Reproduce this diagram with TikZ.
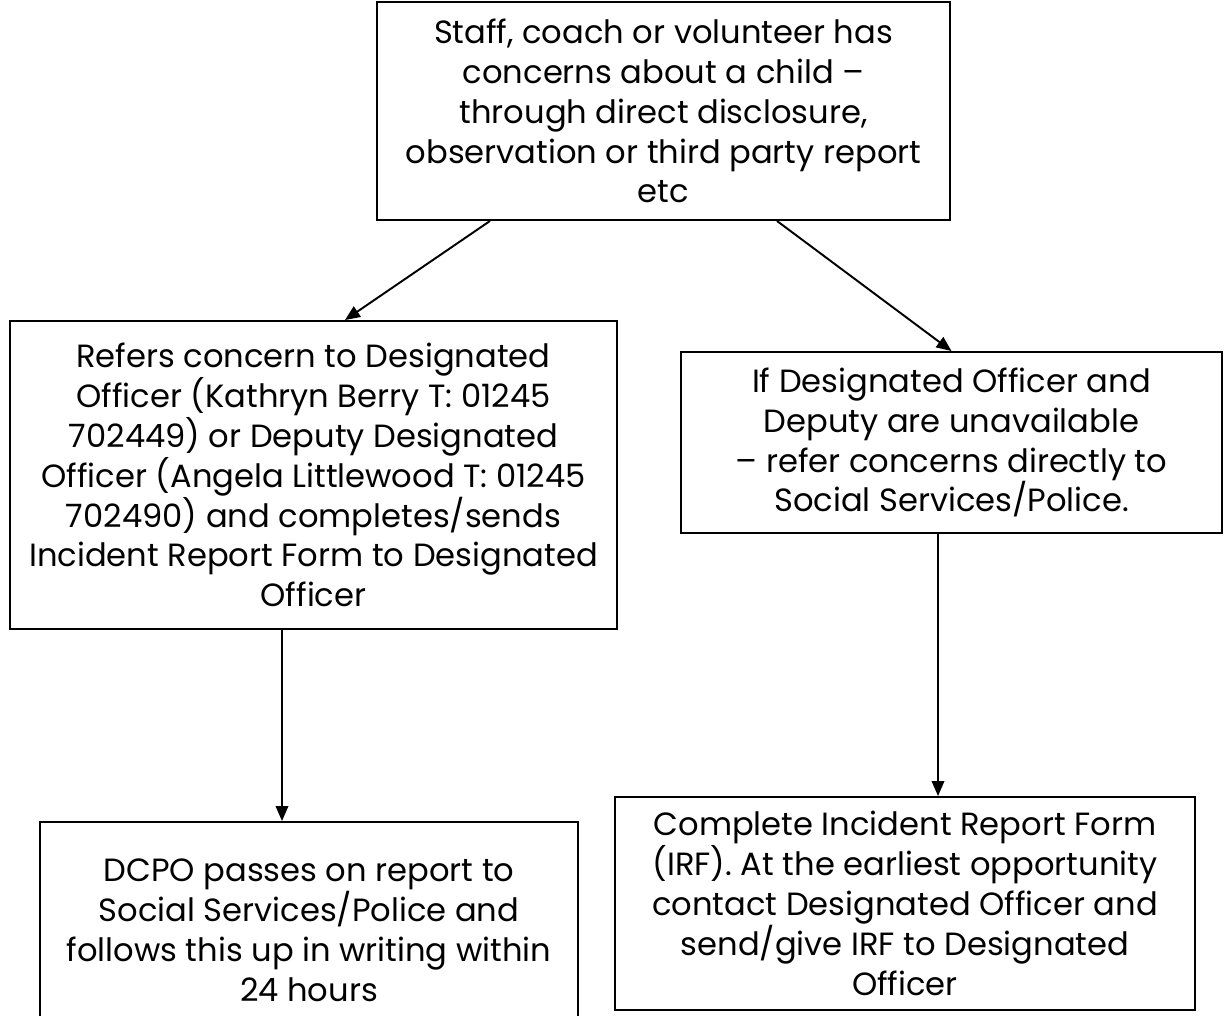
\documentclass[tikz,border=0pt]{standalone}
\usepackage{fontspec}
\setmainfont{Poppins}
\usetikzlibrary{arrows.meta,calc}

\tikzset{
	stepbox/.style={draw, line width=1.1pt, align=center, inner sep=0pt,
		font=\fontsize{18.3}{22.7}\selectfont},
}

\begin{document}
\begin{tikzpicture}[>={Triangle[length=0.3cm,width=0.25cm]}, x=0.02cm, y=-0.02cm, line width=1.1pt]
	\useasboundingbox (0,0) rectangle (1224,1015);
	% boxes
	\node[stepbox, minimum width=573*0.02cm, minimum height=218*0.02cm] (concern) at (663.5,111)
		{Staff, coach or volunteer has\\concerns about a child --\\through direct disclosure,\\observation or third party report\\etc};
	\node[stepbox, minimum width=607*0.02cm, minimum height=308*0.02cm] (refer) at (313.5,475)
		{Refers concern to Designated\\Officer (Kathryn Berry T: 01245\\702449) or Deputy Designated\\Officer (Angela Littlewood T: 01245\\702490) and completes/sends\\Incident Report Form to Designated\\Officer};
	\node[stepbox, minimum width=541*0.02cm, minimum height=181*0.02cm] (unavail) at (951.5,442.5)
		{If Designated Officer and\\Deputy are unavailable\\-- refer concerns directly to\\Social Services/Police.};
	\node[stepbox, minimum width=538*0.02cm, minimum height=216*0.02cm] (dcpo) at (309,930)
		{DCPO passes on report to\\Social Services/Police and\\follows this up in writing within\\24 hours};
	\node[stepbox, minimum width=580*0.02cm, minimum height=213*0.02cm] (irf) at (905,903.5)
		{Complete Incident Report Form\\(IRF). At the earliest opportunity\\contact Designated Officer and\\send/give IRF to Designated\\Officer};
	% arrows
	\draw[->] ($(concern.south)+(-173.5,0)$) -- ($(refer.north)+(31.5,0)$);
	\draw[->] ($(concern.south)+(113.5,0)$) -- (unavail.north);
	\draw[->] ($(refer.south)+(-31.5,0)$) -- ($(dcpo.north)+(-27,0)$);
	\draw[->] ($(unavail.south)+(-13.5,0)$) -- ($(irf.north)+(33,0)$);
\end{tikzpicture}
\end{document}
